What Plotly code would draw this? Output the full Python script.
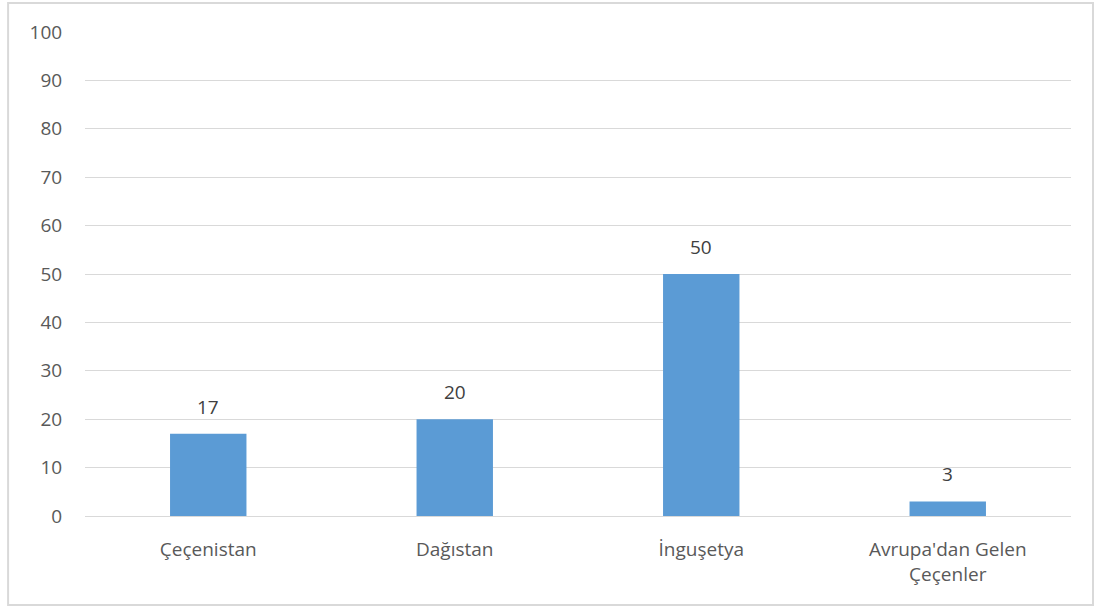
import plotly.graph_objects as go

categories = ["Çeçenistan", "Dağıstan", "İnguşetya", "Avrupa'dan Gelen<br>Çeçenler"]
values = [17, 20, 50, 3]
y_ticks = [0, 10, 20, 30, 40, 50, 60, 70, 80, 90, 100]

font_color = "#595959"
grid_color = "#d9d9d9"

fig = go.Figure()
fig.add_trace(go.Bar(
    x=categories,
    y=values,
    marker=dict(color="#5b9bd5", line=dict(width=0)),
    hoverinfo="x+y",
))

# data labels above the bars
for cat, val in zip(categories, values):
    fig.add_annotation(
        x=cat, y=val, text=str(val),
        showarrow=False, yanchor="bottom", yshift=12,
        font=dict(size=19, color="#404040"),
    )

# plot area in pixels: x 85..1071, y 32..516
fig.update_layout(
    width=1096, height=608,
    margin=dict(l=85, r=25, t=32, b=92),
    paper_bgcolor="white",
    plot_bgcolor="white",
    bargap=0.69,
    showlegend=False,
    font=dict(family="Open Sans, Liberation Sans, sans-serif", size=19, color=font_color),
    xaxis=dict(
        showgrid=False, showline=False,
        ticks="outside", ticklen=16, tickcolor="rgba(0,0,0,0)",
        tickfont=dict(size=19, color=font_color),
    ),
    yaxis=dict(
        range=[0, 100],
        tickvals=y_ticks,
        showgrid=True, gridcolor=grid_color, gridwidth=1,
        zeroline=True, zerolinecolor=grid_color, zerolinewidth=1,
        showline=False, ticks="outside", ticklen=18, tickcolor="rgba(0,0,0,0)",
        tickfont=dict(size=19, color=font_color),
    ),
)

# outer chart border
fig.add_shape(
    type="rect", xref="paper", yref="paper",
    x0=-0.078, x1=1.0223, y0=-0.1839, y1=1.06,
    line=dict(color=grid_color, width=2),
    fillcolor="rgba(0,0,0,0)",
    layer="below",
)

fig.write_html("out.html", config={"displayModeBar": False},
               post_script="document.body.style.margin='0';")
